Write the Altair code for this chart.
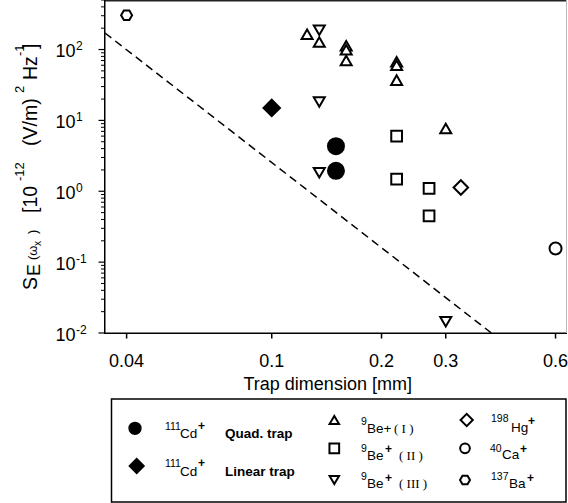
import altair as alt
import pandas as pd

# ---------------- values ----------------
cd_quad_x = [0.15, 0.15]
cd_quad_y = [4.33, 1.94]
cd_lin_x = [0.10]
cd_lin_y = [15.0]
be1_x = [0.125, 0.135, 0.16, 0.16, 0.16, 0.22, 0.22, 0.22, 0.30]
be1_y = [164, 128, 113, 99, 70, 67, 60, 37, 7.7]
be2_x = [0.22, 0.22, 0.27, 0.27]
be2_y = [6.0, 1.48, 1.10, 0.45]
be3_x = [0.135, 0.135, 0.135, 0.30]
be3_y = [187, 18.2, 1.82, 0.0144]
hg_x = [0.33]
hg_y = [1.13]
ca_x = [0.60]
ca_y = [0.156]
ba_x = [0.04]
ba_y = [305]
limit_x = [0.0349, 0.40]
limit_y = [171, 0.01]

x_tick_values = [0.04, 0.1, 0.2, 0.3, 0.6]
x_tick_labels = ["0.04", "0.1", "0.2", "0.3", "0.6"]
y_major_values = [0.01, 0.1, 1, 10, 100]
y_major_exponents = ["-2", "-1", "0", "1", "2"]
y_minor_values = [0.02, 0.03, 0.04, 0.05, 0.06, 0.07, 0.08, 0.09,
                  0.2, 0.3, 0.4, 0.5, 0.6, 0.7, 0.8, 0.9,
                  2, 3, 4, 5, 6, 7, 8, 9,
                  20, 30, 40, 50, 60, 70, 80, 90,
                  200, 300, 400, 500]
x_domain = [0.0349, 0.645]
y_domain = [0.01, 500]

# ---------------- styles / layout ----------------
SANS = "Liberation Sans"
SERIF = "Liberation Serif"
W, H = 462, 333
LEFT = 105  # page x of the plot origin
HEX = "M1,0L0.5,-0.866L-0.5,-0.866L-1,0L-0.5,0.866L0.5,0.866Z"
TICK_LEFT = "M-1,0L0,0"
TICK_DOWN = "M0,0L0,1"

# key, xs, ys, shape, fill, plot size, legend page x, legend page y, legend size
series = [
    ("cdq", cd_quad_x, cd_quad_y, "circle", "black", 256, 135, 428.3, 128),
    ("cdl", cd_lin_x, cd_lin_y, "diamond", "black", 270, 136.7, 466, 196),
    ("be1", be1_x, be1_y, "triangle-up", "white", 121, 334.3, 420, 90),
    ("be2", be2_x, be2_y, "square", "white", 115, 334.3, 448.3, 94),
    ("be3", be3_x, be3_y, "triangle-down", "white", 121, 334.3, 480, 90),
    ("hg", hg_x, hg_y, "diamond", "white", 210, 466.7, 420, 149),
    ("ca", ca_x, ca_y, "circle", "white", 144, 465, 448.3, 94),
    ("ba", ba_x, ba_y, HEX, "white", 121, 465, 480, 100),
]

xs = alt.Scale(type="log", domain=x_domain)
ys = alt.Scale(type="log", domain=y_domain)

one = pd.DataFrame({"k": [0]})
layers = []

# dashed limit line
layers.append(alt.Chart(pd.DataFrame({"x": limit_x, "y": limit_y})).mark_line(
    color="black", strokeWidth=1.5, strokeDash=[8, 5]).encode(
    x=alt.X("x:Q", scale=xs, axis=None),
    y=alt.Y("y:Q", scale=ys, axis=None)))

# frame: axis lines, top and right borders
layers.append(alt.Chart(one).mark_rule(color="black", strokeWidth=1.5).encode(
    x=alt.value(-0.25), y=alt.value(0), y2=alt.value(H + 1)))
layers.append(alt.Chart(one).mark_rule(color="black", strokeWidth=1.5).encode(
    x=alt.value(-1), x2=alt.value(W), y=alt.value(H + 0.25)))
layers.append(alt.Chart(one).mark_rule(color="#222", strokeWidth=1.5).encode(
    x=alt.value(0), x2=alt.value(W), y=alt.value(0.75)))
layers.append(alt.Chart(one).mark_rule(color="#bbbbbb", strokeWidth=1).encode(
    x=alt.value(W - 0.5), y=alt.value(0), y2=alt.value(H)))

# y ticks (major and minor), drawn through the y scale
layers.append(alt.Chart(pd.DataFrame({"v": y_major_values})).mark_point(
    shape=TICK_LEFT, size=144, filled=False, stroke="black", strokeWidth=1.2,
    opacity=1).encode(x=alt.value(-0.5), y=alt.Y("v:Q", scale=ys, axis=None)))
layers.append(alt.Chart(pd.DataFrame({"v": y_minor_values})).mark_point(
    shape=TICK_LEFT, size=49, filled=False, stroke="black", strokeWidth=1,
    opacity=1).encode(x=alt.value(-0.5), y=alt.Y("v:Q", scale=ys, axis=None)))

# x ticks and labels, drawn through the x scale
xt = alt.Chart(pd.DataFrame({"v": x_tick_values, "lab": x_tick_labels}))
layers.append(xt.mark_point(shape=TICK_DOWN, size=100, filled=False, stroke="black",
                            strokeWidth=1.5, opacity=1).encode(
    x=alt.X("v:Q", scale=xs, axis=None), y=alt.value(H + 0.5)))
layers.append(xt.mark_text(align="center", baseline="alphabetic", font=SANS,
                           fontSize=18, color="black").encode(
    x=alt.X("v:Q", scale=xs, axis=None), y=alt.value(366.7), text="lab:N"))

# y tick labels 10^n
ylab = alt.Chart(pd.DataFrame({"v": y_major_values, "e": y_major_exponents}))
layers.append(ylab.mark_text(align="left", baseline="alphabetic", font=SANS,
                             fontSize=18, dy=7.5, color="black").encode(
    x=alt.value(55.5 - LEFT), y=alt.Y("v:Q", scale=ys, axis=None), text=alt.value("10")))
layers.append(ylab.mark_text(align="left", baseline="alphabetic", font=SANS,
                             fontSize=12, dy=0.7, color="black").encode(
    x=alt.value(76 - LEFT), y=alt.Y("v:Q", scale=ys, axis=None), text="e:N"))

# data points
for key, sx, sy, shape, fill, size, lpx, lpy, lsize in series:
    layers.append(alt.Chart(pd.DataFrame({"x": sx, "y": sy})).mark_point(
        shape=shape, size=size, filled=True, fill=fill, stroke="black",
        strokeWidth=2, opacity=1).encode(
        x=alt.X("x:Q", scale=xs, axis=None),
        y=alt.Y("y:Q", scale=ys, axis=None)))


def text_piece(t, px, py, fs, font=SANS, weight="normal", angle=0, align="left"):
    return alt.Chart(one).mark_text(align=align, baseline="alphabetic", font=font,
                                    fontSize=fs, fontWeight=weight, angle=angle,
                                    color="black").encode(
        x=alt.value(px - LEFT), y=alt.value(py), text=alt.value(t))


# x title
layers.append(text_piece("Trap dimension [mm]", 327.7, 390, 18, align="center"))

# y title pieces: text, page x of baseline, page y start, font size
ytitle = [
    ("S", 36.5, 290, 19.5),
    ("E", 39.5, 276, 18),
    ("(ω", 36.5, 260, 13),
    ("x", 40.5, 246, 10),
    (")", 36.5, 234, 13),
    ("[10", 36.5, 213, 19.5),
    ("-12", 23.5, 181, 13),
    ("(V/m)", 36.5, 146, 19.5),
    ("2", 23.5, 93, 13),
    ("Hz", 36.5, 80, 19.5),
    ("-1", 23.5, 56, 13),
    ("]", 36.5, 49, 19.5),
]
for t, px, py, fs in ytitle:
    layers.append(text_piece(t, px, py, fs, angle=270))

# legend box
layers.append(alt.Chart(one).mark_rect(fill="white", fillOpacity=0, stroke="black",
                                       strokeWidth=1.5).encode(
    x=alt.value(111.5 - LEFT), x2=alt.value(566 - LEFT), y=alt.value(399), y2=alt.value(502)))

# legend symbols
for key, sx, sy, shape, fill, size, lpx, lpy, lsize in series:
    layers.append(alt.Chart(one).mark_point(
        shape=shape, size=lsize, filled=True, fill=fill, stroke="black",
        strokeWidth=2, opacity=1).encode(
        x=alt.value(lpx - LEFT), y=alt.value(lpy)))

legend_normal = [
    ("111", 165, 430, 10.5), ("Cd", 180, 438, 13.5),
    ("111", 165, 467, 10.5), ("Cd", 180, 476, 13.5),
    ("9", 361, 425, 10.5), ("Be+", 367, 433, 13.5),
    ("9", 361, 452, 10.5), ("Be", 367, 460, 13.5),
    ("9", 361, 480, 10.5), ("Be", 367, 488, 13.5),
    ("198", 491, 421.5, 10.5), ("Hg", 511, 432, 13.5),
    ("40", 490, 451.5, 10.5), ("Ca", 502, 458.5, 13.5),
    ("137", 491, 480, 10.5), ("Ba", 509, 488, 13.5),
]
legend_bold = [
    ("+", 198, 429.5, 12), ("Quad. trap", 225, 438, 13.5),
    ("+", 198, 466.5, 12), ("Linear trap", 225, 476, 13.5),
    ("+", 385, 453, 12), ("+", 385, 481.5, 12),
    ("+", 528, 425, 12), ("+", 520, 453, 12), ("+", 527, 481.5, 12),
]
legend_serif = [
    ("( I )", 394, 433, 13), ("( II )", 399, 460, 13), ("( III )", 399, 488, 13),
]
for t, px, py, fs in legend_normal:
    layers.append(text_piece(t, px, py, fs))
for t, px, py, fs in legend_bold:
    layers.append(text_piece(t, px, py, fs, weight="bold"))
for t, px, py, fs in legend_serif:
    layers.append(text_piece(t, px, py, fs, font=SERIF))

chart = alt.layer(*layers).properties(
    width=W, height=H,
    autosize=alt.AutoSizeParams(type="none"),
    padding={"left": LEFT, "top": 0, "right": 1, "bottom": 170},
    background="white",
).configure_view(strokeWidth=0)

chart.save("out.html", embed_options={"renderer": "svg", "actions": False})
